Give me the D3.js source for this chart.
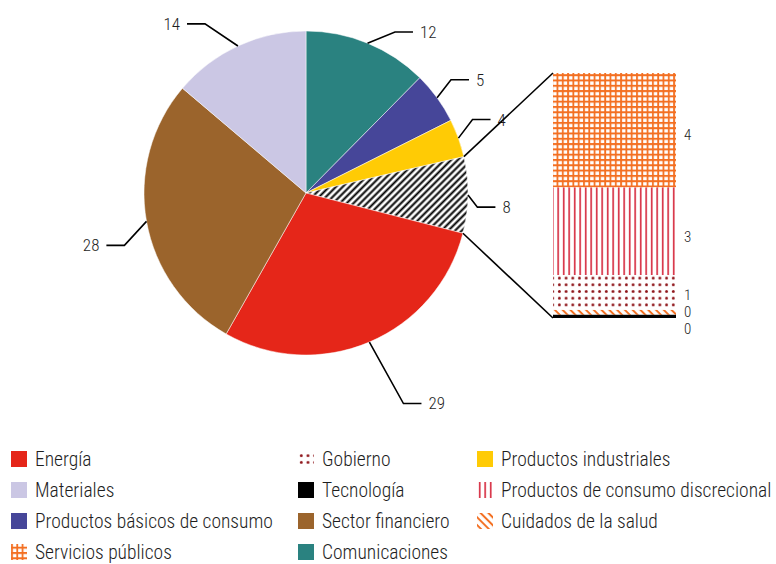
<!DOCTYPE html>
<html>
<head>
<meta charset="utf-8">
<script src="https://cdn.jsdelivr.net/npm/d3@7"></script>
<style>
body { margin: 0; background: #fff; }
text { font-family: "Liberation Sans Narrow", "Roboto Condensed", "DejaVu Sans Condensed", "Arial Narrow", sans-serif; font-weight: 300; fill: #1e1e1e; }
</style>
</head>
<body>
<script>
// pie slices, clockwise from 12 o'clock
var pieNames = ["Comunicaciones", "Productos básicos de consumo", "Productos industriales", "Otros",
                "Energía", "Sector financiero", "Materiales"]
var pieValues = [12.4, 5.2, 3.8, 7.6, 29.2, 28.0, 13.8]

// breakdown of "Otros", top to bottom
var barNames = ["Servicios públicos", "Productos de consumo discrecional", "Gobierno",
                "Cuidados de la salud", "Tecnología"]
var barValues = [3.55, 2.72, 1.08, 0.15, 0.10]

var legendNames = ["Energía", "Materiales", "Productos básicos de consumo", "Servicios públicos",
                   "Gobierno", "Tecnología", "Sector financiero", "Comunicaciones",
                   "Productos industriales", "Productos de consumo discrecional", "Cuidados de la salud"]

// leader line tweaks (deg offset of the elbow, reach beyond the rim)
var leaderTurn = [6.6, -2, -4, 4, -1.8, -6, -6]
var leaderReach = [22, 22, 20, 10, 70, 27, 35]

const W = 776, H = 564
const cx = 306, cy = 193, radius = 162
const barX = 553, barW = 123, barTop = 73, barBottom = 318

var fills = {
    "Comunicaciones": "#2a8280",
    "Productos básicos de consumo": "#464699",
    "Productos industriales": "#ffcb05",
    "Otros": "url(#hatch)",
    "Energía": "#e52619",
    "Sector financiero": "#9b642c",
    "Materiales": "#cbc7e4",
    "Servicios públicos": "url(#grid)",
    "Productos de consumo discrecional": "url(#vlines)",
    "Gobierno": "url(#dots)",
    "Cuidados de la salud": "url(#diag)",
    "Tecnología": "#000"
}

var svg = d3.select("body").append("svg")
    .attr("width", W)
    .attr("height", H)

var defs = svg.append("defs")

function pattern(id, w, h, rot) {
    var p = defs.append("pattern")
        .attr("id", id)
        .attr("patternUnits", "userSpaceOnUse")
        .attr("width", w)
        .attr("height", h)
    if (rot) p.attr("patternTransform", "rotate(" + rot + ")")
    p.append("rect").attr("width", w).attr("height", h).attr("fill", "#fff")
    return p
}

pattern("hatch", 4.8, 10, 45)
    .append("line").attr("x1", 2.4).attr("x2", 2.4).attr("y1", 0).attr("y2", 10)
    .attr("stroke", "#000").attr("stroke-width", 2)

pattern("diag", 5.5, 10, -45)
    .append("line").attr("x1", 2.7).attr("x2", 2.7).attr("y1", 0).attr("y2", 10)
    .attr("stroke", "#f36f21").attr("stroke-width", 2)

var grid = pattern("grid", 5.3, 5.3)
grid.append("path").attr("d", "M0,1H5.3M1,0V5.3")
    .attr("stroke", "#f36f21").attr("stroke-width", 1.8)

pattern("vlines", 5.5, 10)
    .append("line").attr("x1", 2.7).attr("x2", 2.7).attr("y1", 0).attr("y2", 10)
    .attr("stroke", "#d3172e").attr("stroke-width", 1.5)

pattern("dots", 6.7, 6.7)
    .append("circle").attr("cx", 3.3).attr("cy", 3.3).attr("r", 1.45)
    .attr("fill", "#8e1318")

// ---- pie ----
var slices = d3.pie().sort(null).value(d => d)(pieValues)
var arc = d3.arc().innerRadius(0).outerRadius(radius)

var pieG = svg.append("g").attr("transform", "translate(" + cx + "," + cy + ")")

pieG.selectAll("path")
    .data(slices)
    .enter()
    .append("path")
    .attr("d", arc)
    .attr("fill", (d, i) => fills[pieNames[i]])
    .attr("stroke", "#fff")
    .attr("stroke-width", 0.5)

function pt(a, r) { return [r * Math.sin(a), -r * Math.cos(a)] }

var fmt = d3.format(".0f")

slices.forEach(function(d, i) {
    var mid = (d.startAngle + d.endAngle) / 2
    var p0 = pt(mid, radius)
    var p1 = pt(mid + leaderTurn[i] * Math.PI / 180, radius + leaderReach[i])
    var side = p1[0] > 0 ? 1 : -1
    var p2 = [p1[0] + side * 18, p1[1]]
    pieG.append("path")
        .attr("d", d3.line()([p0, p1, p2]))
        .attr("fill", "none")
        .attr("stroke", "#000")
        .attr("stroke-width", 1.6)
    pieG.append("text")
        .attr("x", p2[0] + side * 7)
        .attr("y", p2[1])
        .attr("dy", "0.35em")
        .attr("text-anchor", side > 0 ? "start" : "end")
        .style("font-size", "17px")
        .text(fmt(d.data))
})

// ---- bar of pie ----
var total = d3.sum(barValues)
var yScale = d3.scaleLinear()
    .domain([0, total])
    .range([barBottom, barTop])

var ends = Array.from(d3.cumsum(barValues))   // from top
var stack = barValues.map((v, i) => ({ name: barNames[i], v: v, top: total - ends[i] + v, bot: total - ends[i] }))

svg.selectAll("rect.seg")
    .data(stack)
    .enter()
    .append("rect")
    .attr("class", "seg")
    .attr("x", barX)
    .attr("y", d => yScale(d.top))
    .attr("width", barW)
    .attr("height", d => yScale(d.bot) - yScale(d.top))
    .attr("fill", d => fills[d.name])

// connectors from the "Otros" slice
var other = slices[pieNames.indexOf("Otros")]
var a0 = pt(other.startAngle, radius), a1 = pt(other.endAngle, radius)
svg.append("line")
    .attr("x1", cx + a0[0]).attr("y1", cy + a0[1])
    .attr("x2", barX).attr("y2", yScale(total))
    .attr("stroke", "#000").attr("stroke-width", 1.6)
svg.append("line")
    .attr("x1", cx + a1[0]).attr("y1", cy + a1[1])
    .attr("x2", barX).attr("y2", yScale(0))
    .attr("stroke", "#000").attr("stroke-width", 1.6)

// bar labels, spread apart where they crowd
var minGap = 17
var ly = stack.map(d => (yScale(d.top) + yScale(d.bot)) / 2 + 5)
for (var k = 0; k < 10; k++) {
    for (var j = 1; j < ly.length; j++) {
        var gap = ly[j] - ly[j - 1]
        if (gap < minGap) { ly[j - 1] -= (minGap - gap) / 2; ly[j] += (minGap - gap) / 2 }
    }
}
svg.selectAll("text.bl")
    .data(stack)
    .enter()
    .append("text")
    .attr("class", "bl")
    .attr("x", barX + barW + 8)
    .attr("y", (d, i) => ly[i])
    .attr("dy", "0.35em")
    .style("font-size", "15px")
    .text(d => fmt(d.v))

// ---- legend ----
var colX = [11, 298, 477]
var rowY = [459, 490, 521, 552]

var leg = svg.selectAll("g.leg")
    .data(legendNames)
    .enter()
    .append("g")
    .attr("class", "leg")
    .attr("transform", (d, i) => "translate(" + colX[Math.floor(i / 4)] + "," + rowY[i % 4] + ")")

leg.append("rect")
    .attr("x", 0).attr("y", -8)
    .attr("width", 16).attr("height", 16)
    .attr("fill", d => fills[d])

leg.append("text")
    .attr("x", 24)
    .attr("dy", "0.35em")
    .style("font-size", "19.5px")
    .text(d => d)
</script>
</body>
</html>
